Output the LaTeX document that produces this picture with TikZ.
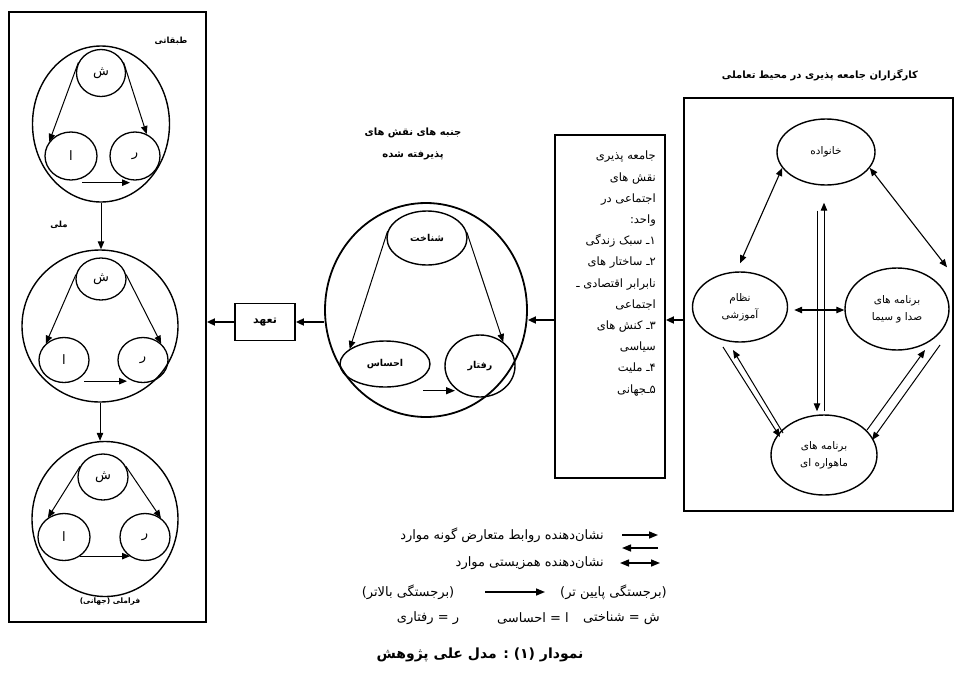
\documentclass[tikz,border=0pt]{standalone}
\usepackage{fontspec}
\usetikzlibrary{shapes.geometric,arrows.meta,calc}
\TeXXeTstate=1
\newfontfamily\fa[Script=Arabic]{DejaVu Sans}
\newcommand\myrtl[1]{\beginR#1\endR}
\begin{document}
\begin{tikzpicture}[x=1pt,y=-1pt,
  panel/.style={draw,line width=1.8pt,inner sep=0pt},
  bigc/.style={ellipse,draw,line width=1.4pt,inner sep=0pt},
  smallc/.style={ellipse,draw,line width=1.3pt,inner sep=0pt,font=\fa\fontsize{13}{15}\selectfont},
  midc/.style={ellipse,draw,line width=1.4pt,inner sep=0pt,font=\fa\bfseries\fontsize{9.5}{11}\selectfont},
  agent/.style={ellipse,draw,line width=1.4pt,inner sep=0pt,align=center,font=\fa\fontsize{10.5}{17}\selectfont},
  lbl/.style={inner sep=0pt,font=\fa\bfseries\fontsize{8.5}{10}\selectfont},
  ttl/.style={inner sep=0pt,align=center,font=\fa\bfseries\fontsize{10}{22}\selectfont},
  leg/.style={inner sep=0pt,font=\fa\fontsize{13}{15}\selectfont},
  arr/.style={-{Triangle[length=8pt,width=6.5pt]},line width=1pt},
  legarr/.style={-{Triangle[length=9pt,width=7pt]},line width=1.5pt},
  dblarr/.style={{Triangle[length=8pt,width=6.5pt]}-{Triangle[length=8pt,width=6.5pt]},line width=1.1pt},
  legdbl/.style={{Triangle[length=9pt,width=7pt]}-{Triangle[length=9pt,width=7pt]},line width=1.5pt},
  bigarr/.style={-{Triangle[length=8pt,width=7pt]},line width=1.8pt}
]
\fill[white] (0,0) rectangle (958,678);
\useasboundingbox (0,0) rectangle (958,678);

% ---------- left panel ----------
\node[panel,minimum width=197pt,minimum height=610pt] (LP) at (107.5,317) {};
\node[lbl] (tab) at (171,41) {\myrtl{طبقاتی}};
\node[lbl] (mel) at (59,225) {\myrtl{ملی}};
\node[lbl,font=\fa\bfseries\fontsize{7.5}{9}\selectfont] (fra) at (110,602) {\myrtl{فراملی (جهانی)}};

% triad 1
\node[bigc,minimum width=137pt,minimum height=156pt] (c1) at (101,124) {};
\node[smallc,minimum width=49pt,minimum height=47pt] (s1) at (101,73) {\myrtl{ش}};
\node[smallc,minimum width=52pt,minimum height=48pt] (a1) at (71,156) {\myrtl{ا}};
\node[smallc,minimum width=50pt,minimum height=48pt] (r1) at (135,156) {\myrtl{ر}};
\draw[arr] (s1.155) -- (a1.147);
\draw[arr] (s1.25) -- (r1.62);
\draw[arr] ($(a1.south)+(11,2)$) -- ($(r1.south)+(-5,2)$);

% triad 2
\node[bigc,minimum width=156pt,minimum height=152pt] (c2) at (100,326) {};
\node[smallc,minimum width=50pt,minimum height=42pt] (s2) at (101,279) {\myrtl{ش}};
\node[smallc,minimum width=50pt,minimum height=45pt] (a2) at (64,360) {\myrtl{ا}};
\node[smallc,minimum width=50pt,minimum height=45pt] (r2) at (143,360) {\myrtl{ر}};
\draw[arr] (s2.170) -- (a2.138);
\draw[arr] (s2.10) -- (r2.42);
\draw[arr] ($(a2.south)+(20,-2)$) -- ($(r2.south)+(-16,-2)$);

% triad 3
\node[bigc,minimum width=146pt,minimum height=155pt] (c3) at (105,519) {};
\node[smallc,minimum width=50pt,minimum height=46pt] (s3) at (103,477) {\myrtl{ش}};
\node[smallc,minimum width=52pt,minimum height=47pt] (a3) at (64,537) {\myrtl{ا}};
\node[smallc,minimum width=50pt,minimum height=47pt] (r3) at (145,537) {\myrtl{ر}};
\draw[arr] (s3.155) -- (a3.130);
\draw[arr] (s3.25) -- (r3.50);
\draw[arr] ($(a3.south)+(16,-5)$) -- ($(r3.south)+(-15,-5)$);

\draw[arr] (c1.south) -- (c1.south |- c2.north);
\draw[arr] (c2.south) -- (c2.south |- c3.north);

% ---------- middle ----------
\node[ttl] (midt) at (413,144) {\myrtl{جنبه های نقش های}\\\myrtl{پذیرفته شده}};
\node[bigc,line width=1.8pt,minimum width=202pt,minimum height=214pt] (C) at (426,310) {};
\node[midc,minimum width=80pt,minimum height=54pt] (Sh) at (427,238) {\myrtl{شناخت}};
\node[midc,minimum width=90pt,minimum height=46pt] (Eh) at (385,364) {\myrtl{احساس}};
\node[midc,minimum width=70pt,minimum height=62pt] (Ra) at (480,366) {\myrtl{رفتار}};
\draw[arr] (Sh.170) -- (Eh.157);
\draw[arr] (Sh.8) -- (Ra.46);
\draw[legarr] ($(Eh.south)+(38,3)$) -- ($(Ra.south)+(-25,-7)$);

\node[panel,minimum width=60pt,minimum height=37pt,font=\fa\bfseries\fontsize{11}{12}\selectfont] (Ta) at (265,322) {\myrtl{تعهد}};
\draw[bigarr] (C.west |- Ta.east) -- (Ta.east);
\draw[bigarr] (Ta.west) -- (Ta.west -| LP.east);

% ---------- text box ----------
\coordinate (m) at (0,320);
\node[panel,minimum width=110pt,minimum height=343pt] (TB) at (610,306.5) {};
\node[anchor=north east,align=right,inner sep=0pt,font=\fa\fontsize{11.5}{21.2}\selectfont] (TBt) at (656,151) {%
\myrtl{جامعه پذیری}\\
\myrtl{نقش های}\\
\myrtl{اجتماعی در}\\
\myrtl{واحد:}\\
\myrtl{۱ـ سبک زندگی}\\
\myrtl{۲ـ ساختار های}\\
\myrtl{نابرابر اقتصادی ـ}\\
\myrtl{اجتماعی}\\
\myrtl{۳ـ کنش های}\\
\myrtl{سیاسی}\\
\myrtl{۴ـ ملیت}\\
\myrtl{۵ـجهانی}};
\draw[bigarr] (TB.west |- m) -- (m -| C.east);

% ---------- right panel ----------
\node[ttl] (rt) at (820,75) {\myrtl{کارگزاران جامعه پذیری در محیط تعاملی}};
\node[panel,minimum width=269pt,minimum height=413pt] (RP) at (818.5,304.5) {};
\draw[bigarr] (RP.west |- m) -- (TB.east |- m);

\node[agent,minimum width=98pt,minimum height=66pt] (KH) at (826,152) {\myrtl{خانواده}};
\node[agent,minimum width=95pt,minimum height=70pt] (NA) at (740,307) {\myrtl{نظام}\\\myrtl{آموزشی}};
\node[agent,minimum width=104pt,minimum height=82pt] (SS) at (897,309) {\myrtl{برنامه های}\\\myrtl{صدا و سیما}};
\node[agent,minimum width=106pt,minimum height=80pt] (MA) at (824,455) {\myrtl{برنامه های}\\\myrtl{ماهواره ای}};

\draw[dblarr] (KH.200) -- ($(NA.north)+(0,-8)$);
\draw[dblarr] (KH.-20) -- ($(SS.north)+(50,0)$);
\draw[arr] ($(KH.south)+(-9,25)$) -- ($(MA.north)+(-7,-3)$);
\draw[arr] ($(MA.north)+(0,-3)$) -- ($(KH.south)+(-2,17)$);
\draw[dblarr] ($(NA.east)+(6,3)$) -- ($(SS.west)+(0,1)$);
\draw[arr] ($(NA)+(-17,40)$) -- ($(MA)+(-44,-18)$);
\draw[arr] ($(MA)+(-41,-22)$) -- ($(NA)+(-7,43)$);
\draw[arr] ($(MA)+(43,-25)$) -- ($(SS)+(28,41)$);
\draw[arr] ($(SS)+(43,36)$) -- ($(MA)+(48,-15)$);

% ---------- legend ----------
\coordinate (L1a) at (622,535); \coordinate (L1b) at (658,535);
\coordinate (L2a) at (658,548); \coordinate (L2b) at (622,548);
\coordinate (L3a) at (620,563); \coordinate (L3b) at (660,563);
\coordinate (L4a) at (485,592); \coordinate (L4b) at (545,592);
\draw[legarr] (L1a) -- (L1b);
\draw[legarr] (L2a) -- (L2b);
\draw[legdbl] (L3a) -- (L3b);
\draw[legarr] (L4a) -- (L4b);
\node[leg,anchor=east] (lg1) at (604,535) {\myrtl{نشان‌دهنده روابط متعارض گونه موارد}};
\node[leg,anchor=east] (lg2) at (604,563) {\myrtl{نشان‌دهنده همزیستی موارد}};
\node[leg] (hi) at (408,592) {\myrtl{(برجستگی بالاتر)}};
\node[leg,anchor=west] (lo) at (560,592) {\myrtl{(برجستگی پایین تر)}};
\node[leg,anchor=west] (k1) at (583,618) {\myrtl{ش = شناختی}};
\node[leg] (k2) at (533,618) {\myrtl{ا = احساسی}};
\node[leg] (k3) at (428,618) {\myrtl{ر = رفتاری}};

\node[inner sep=0pt,font=\fa\bfseries\fontsize{14}{16}\selectfont] (title) at (480,655) {\myrtl{نمودار (۱) : مدل علی پژوهش}};
\end{tikzpicture}
\end{document}
